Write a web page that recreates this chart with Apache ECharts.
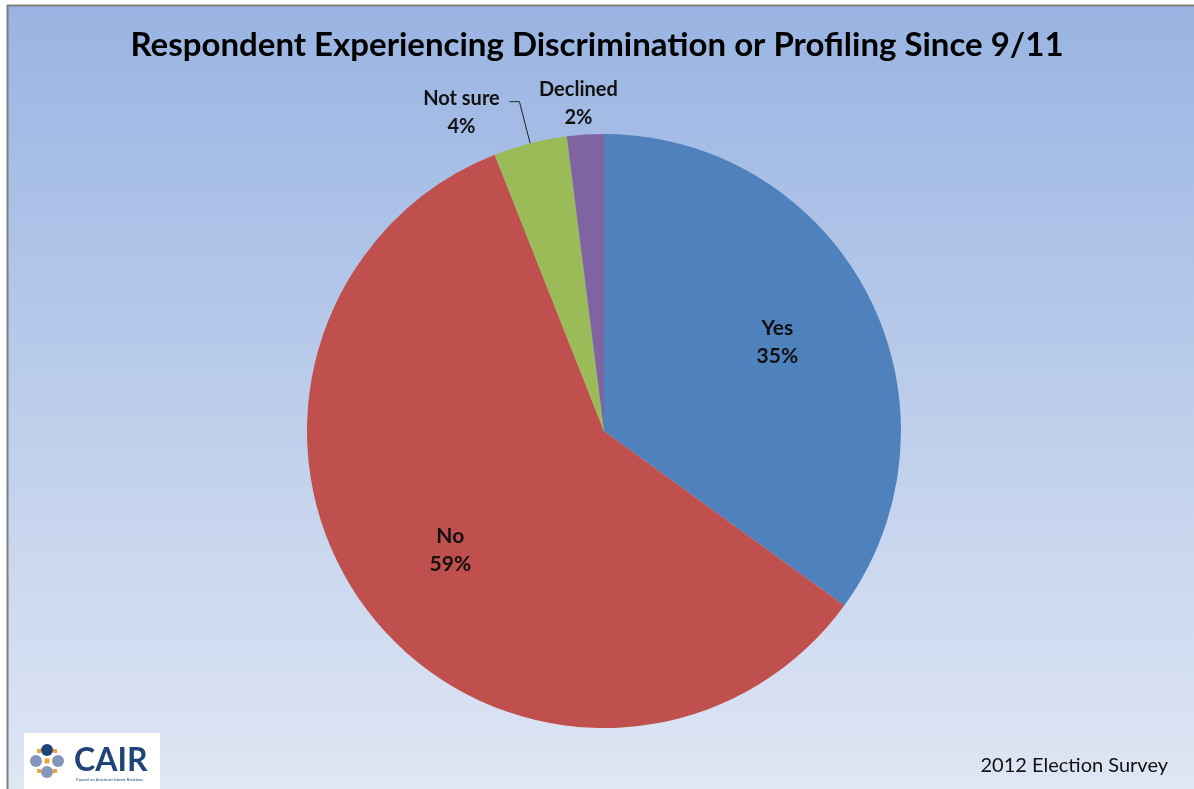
<!DOCTYPE html>
<html>
<head>
<meta charset="utf-8">
<title>Respondent Experiencing Discrimination or Profiling Since 9/11</title>
<script src="https://cdn.jsdelivr.net/npm/echarts@6/dist/echarts.min.js"></script>
<style>
  html, body { margin: 0; padding: 0; background: #ffffff; }
  #chart { width: 1194px; height: 789px; }
</style>
</head>
<body>
<div id="chart"></div>
<script>
// Survey answers and their shares (percent of respondents)
const categories = ['Yes', 'No', 'Not sure', 'Declined'];
const shares = [35, 59, 4, 2];

// Slice palette, in category order
const palette = ['#4F81BD', '#C0504D', '#9BBB59', '#8064A2'];

const titleText = 'Respondent Experiencing Discrimination or Profiling Since 9/11';
const footnote = '2012 Election Survey';

const FONT = 'Lato, "Open Sans", "DejaVu Sans", sans-serif';
const CX = 604, CY = 431, R = 297;

const chart = echarts.init(document.getElementById('chart'), null, { renderer: 'canvas' });

const sliceData = categories.map((name, i) => ({
  name: name,
  value: shares[i],
  itemStyle: { color: palette[i] }
}));

// Labels drawn inside the large slices sit at about two thirds of the radius;
// a transparent companion pie whose mid-radius falls there carries them.
const innerLabelData = categories.map((name, i) => ({
  name: name,
  value: shares[i],
  label: { show: i < 2 }
}));

// Labels for the two thin slices sit outside the pie
const outerLabelData = sliceData.map((d, i) => {
  const item = Object.assign({}, d);
  if (i === 2) {
    item.label = {
      show: true,
      position: 'outside',
      padding: [22, 0, 0, 0],
      formatter: p => '{t|' + p.name + '}\n{t|' + p.value + '%}',
      rich: {
        t: { width: 86, align: 'center', fontSize: 20, fontWeight: 'bold',
             fontFamily: FONT, color: '#111', lineHeight: 28 }
      }
    };
    item.labelLine = { show: true, length: 43, length2: 10,
                       lineStyle: { color: '#222', width: 1 } };
  } else if (i === 3) {
    item.label = {
      show: true,
      position: 'outside',
      formatter: p => '{t|' + p.name + '}\n{t|' + p.value + '%}',
      rich: {
        t: { width: 90, align: 'center', fontSize: 20, fontWeight: 'bold',
             fontFamily: FONT, color: '#111', lineHeight: 28 }
      }
    };
    item.labelLine = { show: false, length: 31, length2: 0 };
  } else {
    item.label = { show: false };
    item.labelLine = { show: false };
  }
  return item;
});

const option = {
  animation: false,
  backgroundColor: '#ffffff',
  title: {
    text: titleText,
    left: 'center',
    top: 24,
    textStyle: { fontFamily: FONT, fontSize: 33, fontWeight: 'bold', color: '#000' }
  },
  graphic: [
    // plot area with its vertical blue wash
    {
      type: 'rect', z: -10, silent: true,
      shape: { x: 8, y: 6, width: 1186, height: 783 },
      style: {
        fill: new echarts.graphic.LinearGradient(0, 0, 0, 1, [
          { offset: 0, color: '#99B4E2' },
          { offset: 1, color: '#DFE6F4' }
        ])
      }
    },
    { type: 'line', z: -9, silent: true,
      shape: { x1: 7, y1: 5.5, x2: 1194, y2: 5.5 },
      style: { stroke: '#7F7F7F', lineWidth: 2 } },
    { type: 'line', z: -9, silent: true,
      shape: { x1: 7.5, y1: 5, x2: 7.5, y2: 789 },
      style: { stroke: '#7F7F7F', lineWidth: 2 } },
    // footnote
    { type: 'text', z: 5, silent: true, right: 26, top: 756,
      style: { text: footnote, fontFamily: FONT, fontSize: 20, fill: '#111' } },
    // CAIR logo card
    {
      type: 'group', z: 5, silent: true, left: 24, top: 733,
      children: [
        { type: 'rect', shape: { x: 0, y: 0, width: 136, height: 56 }, style: { fill: '#ffffff' } },
        // emblem: four figures around an orange centre
        { type: 'circle', shape: { cx: 23, cy: 17, r: 6 }, style: { fill: '#1F4477' } },
        { type: 'circle', shape: { cx: 23, cy: 39, r: 6 }, style: { fill: '#8496BC' } },
        { type: 'circle', shape: { cx: 12, cy: 28, r: 6 }, style: { fill: '#8496BC' } },
        { type: 'circle', shape: { cx: 34, cy: 28, r: 6 }, style: { fill: '#8496BC' } },
        { type: 'rect', shape: { x: 13, y: 16, width: 4, height: 4 }, style: { fill: '#F5A23A' } },
        { type: 'rect', shape: { x: 29, y: 16, width: 4, height: 4 }, style: { fill: '#F5A23A' } },
        { type: 'rect', shape: { x: 13, y: 36, width: 4, height: 4 }, style: { fill: '#F5A23A' } },
        { type: 'rect', shape: { x: 29, y: 36, width: 4, height: 4 }, style: { fill: '#F5A23A' } },
        { type: 'rect', shape: { x: 20.5, y: 25.5, width: 5, height: 5 }, style: { fill: '#F5A23A' } },
        { type: 'text', x: 50, y: 12,
          style: { text: 'CAIR', fontFamily: FONT, fontSize: 32, fontWeight: 'bold', fill: '#1F4477' } },
        { type: 'text', x: 52, y: 45,
          style: { text: 'Council on American-Islamic Relations', fontFamily: FONT, fontSize: 4, fill: '#1F4477' } }
      ]
    }
  ],
  series: [
    {
      type: 'pie',
      center: [CX, CY],
      radius: [0, R],
      startAngle: 90,
      clockwise: true,
      avoidLabelOverlap: false,
      silent: true,
      itemStyle: { borderWidth: 0 },
      emphasis: { disabled: true },
      labelLayout: function (p) {
        if (p.dataIndex === 3) return { align: 'center' };
        return {};
      },
      data: outerLabelData
    },
    {
      type: 'pie',
      center: [CX, CY],
      radius: [0, Math.round(R * 1.29)],
      startAngle: 90,
      clockwise: true,
      silent: true,
      z: 3,
      emphasis: { disabled: true },
      itemStyle: { color: 'rgba(0,0,0,0)', borderWidth: 0 },
      label: {
        position: 'inside',
        formatter: '{b}\n{c}%',
        fontFamily: FONT,
        fontSize: 21,
        fontWeight: 'bold',
        color: '#111',
        lineHeight: 28
      },
      labelLine: { show: false },
      data: innerLabelData
    }
  ]
};

chart.setOption(option);
</script>
</body>
</html>
